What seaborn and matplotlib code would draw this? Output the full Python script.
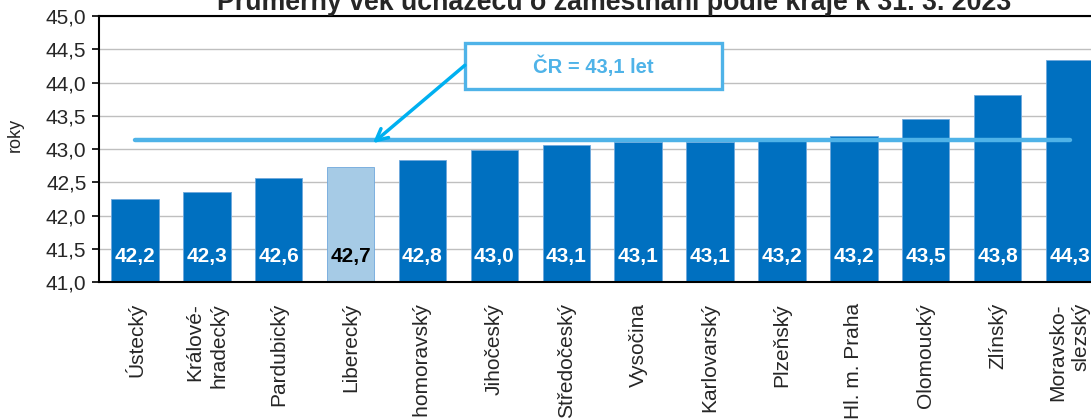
import matplotlib
matplotlib.use("Agg")
import matplotlib.pyplot as plt
import seaborn as sns
import pandas as pd
from matplotlib.patches import Rectangle

sns.set_theme(style="white")
plt.rcParams['font.family'] = ['Liberation Sans', 'DejaVu Sans']

# data
regions = ['Ústecký', 'Králové-\nhradecký', 'Pardubický', 'Liberecký', 'Jihomoravský',
           'Jihočeský', 'Středočeský', 'Vysočina', 'Karlovarský', 'Plzeňský',
           'Hl. m. Praha', 'Olomoucký', 'Zlínský', 'Moravsko-\nslezský']
ages = [42.25, 42.35, 42.56, 42.73, 42.84, 42.98, 43.06, 43.10, 43.11, 43.13,
        43.20, 43.46, 43.81, 44.34]
age_labels = ['42,2', '42,3', '42,6', '42,7', '42,8', '43,0', '43,1', '43,1',
              '43,1', '43,2', '43,2', '43,5', '43,8', '44,3']
highlight = 'Liberecký'
cr_avg = 43.14
cr_label = 'ČR = 43,1 let'

dark_blue = '#0070C0'
light_blue = '#A6CBE6'
line_blue = '#4FB3E8'

df = pd.DataFrame({'kraj': regions, 'vek': ages})
palette = {r: (light_blue if r == highlight else dark_blue) for r in regions}

fig = plt.figure(figsize=(10.91, 4.19), dpi=100)
ax = fig.add_axes([0.0907, 0.3263, 0.9226, 0.6355])

sns.barplot(data=df, x='kraj', y='vek', hue='kraj', palette=palette, legend=False,
            width=0.66, saturation=1, ax=ax, zorder=2, edgecolor='#6FA8DC', linewidth=0.6)

ax.set_xlim(-0.5, len(regions) - 0.5)
ax.set_ylim(41.0, 45.0)
ax.set_yticks([41 + 0.5 * i for i in range(9)])
ax.set_yticklabels([f'{41 + 0.5 * i:.1f}'.replace('.', ',') for i in range(9)], fontsize=15)
ax.yaxis.grid(True, color='#BFBFBF', linewidth=1.0, zorder=0)
ax.set_axisbelow(True)

# category ticks between bars
ax.set_xticks(range(len(regions)))
ax.set_xticklabels(regions, rotation=90, fontsize=15, linespacing=1.3,
                   multialignment='right', va='top', ha='center')
ax.set_xticks([i - 0.5 for i in range(len(regions) + 1)], minor=True)
ax.tick_params(axis='x', which='major', length=0, pad=15)
ax.tick_params(axis='x', which='minor', length=5, width=1.2, color='black', direction='out')
ax.tick_params(axis='y', length=5, width=1.2, color='black', direction='out', pad=4,
               left=True)
ax.set_xlabel('')
ax.set_ylabel('')

for side in ['left', 'bottom', 'top']:
    ax.spines[side].set_color('black')
    ax.spines[side].set_linewidth(1.5)
ax.spines['right'].set_visible(False)

# value labels inside bars
for i, (r, lab) in enumerate(zip(regions, age_labels)):
    col = 'black' if r == highlight else 'white'
    ax.text(i, 41.39, lab, ha='center', va='center', fontsize=15, fontweight='bold',
            color=col, zorder=4)

# average line
ax.plot([0, len(regions) - 1], [cr_avg, cr_avg], color=line_blue, linewidth=3.2,
        solid_capstyle='round', zorder=3)

# annotation box and arrow
ax.add_patch(Rectangle((4.59, 43.90), 3.57, 0.69, facecolor='white', edgecolor=line_blue,
                       linewidth=2.4, zorder=5))
ax.text(6.37, 44.25, cr_label, ha='center', va='center', fontsize=14.5, fontweight='bold',
        color=line_blue, zorder=6)
ax.annotate('', xy=(3.31, 43.09), xytext=(4.59, 44.26),
            arrowprops=dict(arrowstyle='->,head_length=0.7,head_width=0.35',
                            color='#00B0F0', lw=2.5, shrinkA=0, shrinkB=0), zorder=6)

fig.text(15 / 1091, 1 - 135 / 419, 'roky', rotation=90, ha='center', va='center', fontsize=13)
fig.text(614 / 1091, 1 - 10 / 419,
         'Průměrný věk uchazečů o zaměstnání podle kraje k 31. 3. 2023',
         ha='center', va='baseline', fontsize=19.3, fontweight='bold')

fig.savefig('out.png', dpi=100)
